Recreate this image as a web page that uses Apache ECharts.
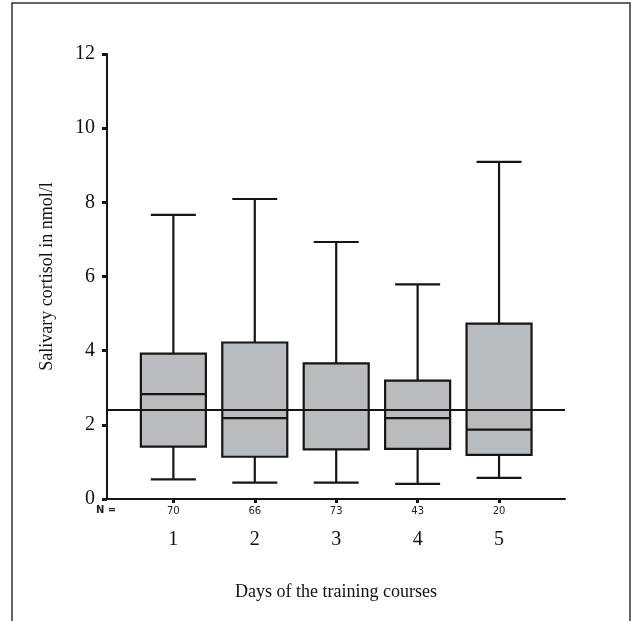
<!DOCTYPE html>
<html>
<head>
<meta charset="utf-8">
<script src="https://cdn.jsdelivr.net/npm/echarts@6/dist/echarts.min.js"></script>
<style>
  html, body { margin: 0; padding: 0; background: #fff; }
  #chart { width: 631px; height: 621px; }
</style>
</head>
<body>
<div id="chart"></div>
<script>
// days of the training courses and sample sizes
const days = [1, 2, 3, 4, 5];
const counts = [70, 66, 73, 43, 20];

// box plot values (nmol/l)
const mins = [0.53, 0.44, 0.44, 0.41, 0.57];
const q1s = [1.41, 1.14, 1.34, 1.35, 1.19];
const medians = [2.83, 2.18, 2.40, 2.18, 1.87];
const q3s = [3.92, 4.22, 3.66, 3.19, 4.73];
const maxs = [7.66, 8.09, 6.93, 5.79, 9.09];

// horizontal reference line
const refValue = 2.4;

const yTicks = [0, 2, 4, 6, 8, 10, 12];

const boxData = days.map((d, i) => [d, mins[i], q1s[i], medians[i], q3s[i], maxs[i]]);

const chart = echarts.init(document.getElementById('chart'));

const lineColor = '#151515';
const serif = '"Liberation Serif", "DejaVu Serif", serif';

const option = {
    animation: false,
    backgroundColor: '#fff',
    grid: {
        left: 107,
        right: 66,
        top: 54,
        bottom: 122,
    },
    xAxis: {
        type: 'value',
        min: 0.185,
        max: 5.81,
        name: 'Days of the training courses',
        nameLocation: 'middle',
        nameGap: 84,
        nameTextStyle: {
            fontFamily: serif,
            fontSize: 18,
            color: '#111',
        },
        axisLine: {
            show: true,
            onZero: false,
            lineStyle: { color: lineColor, width: 2 },
        },
        axisTick: {
            show: true,
            customValues: days,
            length: 4,
            lineStyle: { color: lineColor, width: 3 },
        },
        axisLabel: {
            customValues: days,
            margin: 5,
            formatter: (v) => '{n|' + counts[days.indexOf(v)] + '}\n{c|' + v + '}',
            rich: {
                n: {
                    fontFamily: '"DejaVu Sans", sans-serif',
                    fontSize: 10,
                    lineHeight: 14,
                    color: '#222',
                },
                c: {
                    fontFamily: serif,
                    fontSize: 20,
                    lineHeight: 44,
                    color: '#111',
                },
            },
        },
        splitLine: { show: false },
    },
    yAxis: {
        type: 'value',
        min: 0,
        max: 12,
        interval: 2,
        name: 'Salivary cortisol in nmol/l',
        nameLocation: 'middle',
        nameGap: 51,
        nameTextStyle: {
            fontFamily: serif,
            fontSize: 18,
            color: '#111',
        },
        axisLine: {
            show: true,
            lineStyle: { color: lineColor, width: 2 },
        },
        axisTick: {
            show: true,
            length: 5,
            lineStyle: { color: lineColor, width: 3 },
        },
        axisLabel: {
            margin: 12,
            fontFamily: serif,
            fontSize: 20,
            color: '#111',
            formatter: (v) => (yTicks.indexOf(v) >= 0 ? String(v) : ''),
        },
        splitLine: { show: false },
    },
    graphic: [
        {
            type: 'rect',
            shape: { x: 12, y: 3, width: 618, height: 640 },
            style: { fill: null, stroke: '#333', lineWidth: 1.5 },
            silent: true,
        },
        {
            type: 'text',
            left: 96,
            top: 505,
            style: {
                text: 'N =',
                font: 'bold 10px "DejaVu Sans", sans-serif',
                fill: '#222',
            },
        },
    ],
    series: [
        {
            type: 'custom',
            data: boxData,
            encode: { x: 0, y: [1, 2, 3, 4, 5] },
            renderItem: function (params, api) {
                const x = api.value(0);
                const lo = api.coord([x, api.value(1)]);
                const q1 = api.coord([x, api.value(2)]);
                const med = api.coord([x, api.value(3)]);
                const q3 = api.coord([x, api.value(4)]);
                const hi = api.coord([x, api.value(5)]);
                const cx = lo[0];
                const bw = 65; // box width
                const cw = 45; // whisker cap width
                const lineStyle = { stroke: lineColor, lineWidth: 2.2, fill: null };
                return {
                    type: 'group',
                    children: [
                        { type: 'line', shape: { x1: cx, y1: q3[1], x2: cx, y2: hi[1] }, style: lineStyle },
                        { type: 'line', shape: { x1: cx - cw / 2, y1: hi[1], x2: cx + cw / 2, y2: hi[1] }, style: lineStyle },
                        { type: 'line', shape: { x1: cx, y1: q1[1], x2: cx, y2: lo[1] }, style: lineStyle },
                        { type: 'line', shape: { x1: cx - cw / 2, y1: lo[1], x2: cx + cw / 2, y2: lo[1] }, style: lineStyle },
                        {
                            type: 'rect',
                            shape: { x: cx - bw / 2, y: q3[1], width: bw, height: q1[1] - q3[1] },
                            style: { fill: '#b9bcbe', stroke: lineColor, lineWidth: 2.2 },
                        },
                        { type: 'line', shape: { x1: cx - bw / 2, y1: med[1], x2: cx + bw / 2, y2: med[1] }, style: lineStyle },
                    ],
                };
            },
            markLine: {
                silent: true,
                symbol: 'none',
                label: { show: false },
                lineStyle: { color: lineColor, width: 1.8, type: 'solid' },
                data: [{ yAxis: refValue }],
                z: 10,
            },
        },
    ],
};

chart.setOption(option);
</script>
</body>
</html>
